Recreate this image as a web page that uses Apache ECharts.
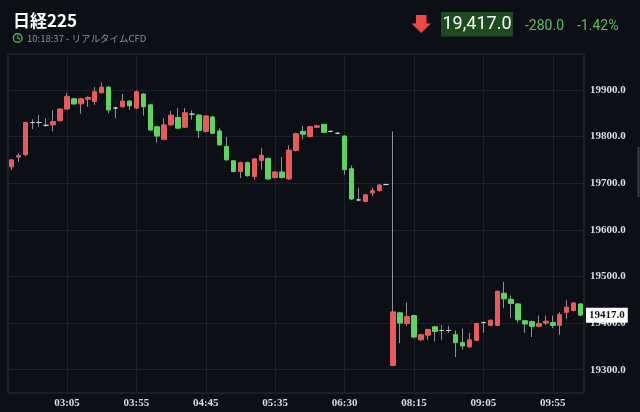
<!DOCTYPE html>
<html><head><meta charset="utf-8">
<script src="https://cdn.jsdelivr.net/npm/echarts@6/dist/echarts.min.js"></script>
<style>html,body{margin:0;padding:0;background:#0c1016;}#c{width:640px;height:412px;}</style>
</head><body><div id="c"></div>
<script>
const times = ['02:25','02:30','02:35','02:40','02:45','02:50','02:55','03:00','03:05','03:10',
'03:15','03:20','03:25','03:30','03:35','03:40','03:45','03:50','03:55','04:00',
'04:05','04:10','04:15','04:20','04:25','04:30','04:35','04:40','04:45','04:50',
'04:55','05:00','05:05','05:10','05:15','05:20','05:25','05:30','05:35','05:40',
'05:45','05:50','05:55','06:05','06:10','06:15','06:20','06:25','06:30','06:35',
'06:40','06:45','06:50','06:55','07:00','08:00','08:05','08:10','08:15','08:20',
'08:25','08:30','08:35','08:40','08:45','08:50','08:55','09:00','09:05','09:10',
'09:15','09:20','09:25','09:30','09:35','09:40','09:45','09:50','09:55','10:00',
'10:05','10:10','10:15'];
const opens = [19735,19756,19761,19830,19830,19824,19825,19834,19859,19881,
19870,19880,19875,19894,19906,19861,19864,19876,19861,19891,
19868,19821,19794,19825,19841,19820,19848,19846,19811,19842,
19812,19779,19748,19725,19744,19714,19749,19753,19712,19724,
19709,19770,19811,19800,19820,19826,19811,19807,19801,19731,
19664,19661,19679,19684,19697,19309,19422,19399,19416,19364,
19374,19392,19384,19384,19375,19358,19349,19363,19401,19395,
19395,19464,19451,19441,19405,19403,19393,19400,19401,19395,
19423,19427,19441];
const closes = [19750,19759,19830,19830,19830,19824,19832,19859,19886,19870,
19881,19884,19896,19906,19857,19861,19876,19866,19896,19864,
19814,19801,19825,19846,19818,19851,19848,19813,19844,19807,
19782,19750,19725,19744,19716,19752,19760,19709,19724,19712,
19771,19806,19805,19821,19823,19809,19811,19807,19729,19666,
19664,19675,19684,19696,19697,19424,19400,19414,19370,19375,
19386,19382,19384,19384,19358,19351,19364,19399,19401,19406,
19468,19452,19442,19407,19398,19393,19399,19404,19395,19418,
19434,19443,19417];
const lows = [19728,19746,19758,19816,19820,19821,19811,19832,19857,19868,
19849,19864,19868,19892,19850,19839,19862,19857,19859,19845,
19812,19787,19792,19823,19816,19818,19836,19797,19809,19805,
19780,19748,19723,19711,19714,19707,19729,19707,19710,19710,
19707,19768,19794,19798,19818,19807,19809,19805,19718,19664,
19661,19659,19672,19682,19695,19307,19357,19394,19368,19362,
19364,19361,19364,19379,19327,19343,19347,19361,19379,19393,
19393,19432,19411,19401,19379,19370,19391,19396,19389,19375,
19409,19425,19415];
const highs = [19752,19764,19832,19837,19846,19839,19857,19861,19893,19883,
19883,19886,19906,19916,19908,19864,19891,19878,19899,19893,
19870,19823,19839,19855,19861,19861,19856,19848,19846,19844,
19818,19799,19750,19746,19746,19754,19775,19755,19726,19756,
19781,19808,19823,19823,19825,19828,19813,19809,19803,19738,
19690,19677,19690,19698,19699,19811,19424,19444,19418,19377,
19388,19394,19396,19394,19384,19388,19379,19401,19403,19408,
19470,19488,19459,19443,19407,19405,19416,19416,19416,19423,
19449,19445,19443];
const tickLabels = ['03:05','03:55','04:45','05:35','06:30','08:15','09:05','09:55'];
const lastPrice = 19417.0;
const titleText = '日経225';
const subText = '10:18:37 - リアルタイムCFD';
const priceText = '19,417.0';
const changeText = '-280.0';
const pctText = '-1.42%';

const UP = '#e65b5b', DOWN = '#5ed35f', WICK = '#8c9198', DOJI = '#cfd3d8';
const fullData = times.map((t, i) => [opens[i], closes[i], lows[i], highs[i]]);
const bodyData = times.map((t, i) => [opens[i], closes[i], Math.min(opens[i], closes[i]), Math.max(opens[i], closes[i])]);
const showTick = (i, v) => tickLabels.indexOf(v) >= 0;
const gridLine = '#1b222b';
const labelFont = {color: '#d9dde2', fontFamily: 'Liberation Serif', fontSize: 11, fontWeight: 'bold'};

const chart = echarts.init(document.getElementById('c'), null, {renderer: 'canvas'});
chart.setOption({
  backgroundColor: '#0c1016',
  animation: false,
  grid: {left: 8, right: 56, top: 54, bottom: 19, show: true, borderColor: '#29313b', borderWidth: 1, backgroundColor: 'transparent'},
  xAxis: {
    type: 'category', data: times, boundaryGap: true,
    axisLine: {show: false}, axisTick: {show: false},
    axisLabel: Object.assign({interval: showTick, margin: 5}, labelFont),
    splitLine: {show: true, interval: showTick, alignWithLabel: true, lineStyle: {color: gridLine, width: 1}}
  },
  yAxis: {
    type: 'value', position: 'right', min: 19250, max: 19977, interval: 50,
    axisLine: {show: false}, axisTick: {show: false},
    axisLabel: Object.assign({margin: 6, formatter: v => (v % 100 === 0 ? v.toFixed(1) : '')}, labelFont),
    splitLine: {show: true, lineStyle: {color: ['rgba(0,0,0,0)', gridLine], width: 1}}
  },
  series: [
    {
      type: 'candlestick', name: 'wick', data: fullData, barWidth: 1, silent: true,
      itemStyle: {color: WICK, color0: WICK, borderColor: WICK, borderColor0: WICK, borderColorDoji: WICK, borderWidth: 1}
    },
    {
      type: 'candlestick', name: 'body', data: bodyData, barWidth: 5, silent: true,
      itemStyle: {color: UP, color0: DOWN, borderColor: UP, borderColor0: DOWN, borderColorDoji: DOJI, borderWidth: 1},
      markLine: {
        silent: true, symbol: 'none', animation: false,
        data: [{yAxis: lastPrice}],
        lineStyle: {color: 'rgba(0,0,0,0)', width: 0},
        label: {show: true, position: 'end', distance: 2, formatter: () => lastPrice.toFixed(1),
          backgroundColor: '#ffffff', color: '#111', padding: [2, 3, 2, 3],
          fontFamily: 'Liberation Serif', fontSize: 11, fontWeight: 'bold'}
      }
    }
  ],
  graphic: [
    {type: 'text', x: 13, y: 21, style: {text: titleText, fill: '#ffffff', font: 'bold 17px "Noto Sans CJK JP"', verticalAlign: 'middle'}},
    {type: 'circle', shape: {cx: 17.7, cy: 38, r: 4.3}, style: {fill: 'none', stroke: '#4caf50', lineWidth: 1.4}},
    {type: 'polyline', shape: {points: [[17.7, 35.4], [17.7, 38.2], [19.9, 39.4]]}, style: {stroke: '#4caf50', lineWidth: 1.2, fill: 'none'}},
    {type: 'text', x: 27, y: 38.3, style: {text: subText, fill: '#8b9198', font: '9.5px "Noto Sans CJK JP"', verticalAlign: 'middle'}},
    {type: 'polygon', shape: {points: [[416, 15], [426.5, 15], [426.5, 23.5], [431, 23.5], [421.2, 33], [411.5, 23.5], [416, 23.5]]}, style: {fill: '#ee4646'}},
    {type: 'rect', shape: {x: 441, y: 12, width: 72, height: 24.5}, style: {fill: '#1e4a1f'}},
    {type: 'text', x: 477, y: 24.5, style: {text: priceText, fill: '#ffffff', font: '18px Roboto', align: 'center', verticalAlign: 'middle'}},
    {type: 'text', x: 525, y: 26, style: {text: changeText, fill: '#5cbf5c', font: '14px Roboto', verticalAlign: 'middle'}},
    {type: 'text', x: 577, y: 26, style: {text: pctText, fill: '#5cbf5c', font: '14px Roboto', verticalAlign: 'middle'}},
    {type: 'rect', shape: {x: 637.5, y: 147, width: 2, height: 50}, style: {fill: '#3a4049'}}
  ]
});
</script></body></html>
